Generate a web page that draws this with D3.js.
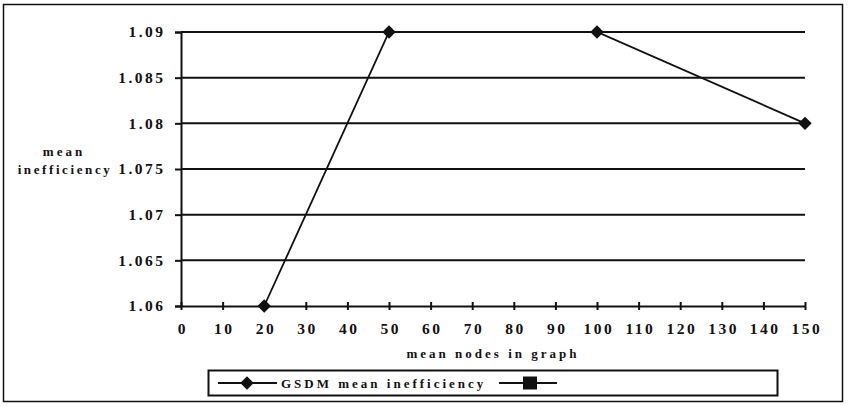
<!DOCTYPE html>
<html><head><meta charset="utf-8">
<script src="https://cdn.jsdelivr.net/npm/d3@7"></script>
<style>
body{margin:0;background:#fff;}
text{font-family:"Liberation Serif","Times New Roman",serif;font-weight:bold;fill:#111;}
</style></head>
<body><svg id="c" width="854" height="406"></svg>
<script>
const xTicks = [0,10,20,30,40,50,60,70,80,90,100,110,120,130,140,150];
const yTicks = [1.06,1.065,1.07,1.075,1.08,1.085,1.09];
const yTickLabels = ["1.06","1.065","1.07","1.075","1.08","1.085","1.09"];
const seriesNames = ["GSDM mean inefficiency",""];
const gsdmX = [20,50,100,150];
const gsdmY = [1.06,1.09,1.09,1.08];
const series2X = [];
const series2Y = [];

const svg = d3.select("#c");
const ink = "#111";
const L=181,R=805,T=32,B=306;
const x = d3.scaleLinear().domain([0,150]).range([L,R]);
const y = d3.scaleLinear().domain([1.06,1.09]).range([B,T]);
const FS = 13, LS = 3;      // word labels
const NFS = 15.5, NLS = 2.5;  // numeric tick labels

// outer frame
svg.append("rect").attr("x",3.5).attr("y",4.5).attr("width",839).attr("height",397)
  .attr("fill","none").attr("stroke",ink).attr("stroke-width",1.5);

// gridlines
svg.append("g").selectAll("line").data(yTicks.slice(1)).join("line")
  .attr("x1",L).attr("x2",R).attr("y1",d=>y(d)).attr("y2",d=>y(d))
  .attr("stroke",ink).attr("stroke-width",2);

// y axis
const yAxis = d3.axisLeft(y).tickValues(yTicks).tickFormat((d,i)=>yTickLabels[i]).tickSize(6).tickPadding(12);
const gy = svg.append("g").attr("transform",`translate(${L},0)`).call(yAxis);
gy.attr("font-family",null).attr("font-size",null);
gy.select(".domain").attr("stroke",ink).attr("stroke-width",2);
gy.selectAll(".tick line").attr("stroke",ink).attr("stroke-width",2);
gy.selectAll(".tick text").style("font-size",NFS+"px").style("letter-spacing",NLS+"px")
  .attr("fill",ink).attr("dx",NLS+"px");

// x axis
const xAxis = d3.axisBottom(x).tickValues(xTicks).tickSize(0).tickPadding(17);
const gx = svg.append("g").attr("transform",`translate(0,${B})`).call(xAxis);
gx.attr("font-family",null).attr("font-size",null);
gx.select(".domain").attr("stroke",ink).attr("stroke-width",2);
gx.selectAll(".tick line").attr("y1",-4).attr("y2",4).attr("stroke",ink).attr("stroke-width",2);
gx.selectAll(".tick text").style("font-size",NFS+"px").style("letter-spacing",NLS+"px")
  .attr("fill",ink).attr("dx",(NLS/2)+"px");

// axis titles
svg.append("text").attr("x",(L+R)/2).attr("y",358).attr("text-anchor","middle")
  .style("font-size",FS+"px").style("letter-spacing",LS+"px").text("mean nodes in graph");
svg.append("text").attr("x",64).attr("y",156).attr("text-anchor","middle")
  .style("font-size",FS+"px").style("letter-spacing",LS+"px").text("mean");
svg.append("text").attr("x",65).attr("y",174).attr("text-anchor","middle")
  .style("font-size",FS+"px").style("letter-spacing","2.6px").text("inefficiency");

// series line
const pts = gsdmX.map((d,i)=>[d,gsdmY[i]]);
const line = d3.line().x(d=>x(d[0])).y(d=>y(d[1]));
svg.append("path").datum(pts).attr("d",line).attr("fill","none").attr("stroke",ink).attr("stroke-width",1.8);
const sq = d3.symbol().type(d3.symbolSquare).size(90);
svg.append("g").selectAll("path").data(pts).join("path")
  .attr("d",sq).attr("transform",d=>`translate(${x(d[0])},${y(d[1])}) rotate(45)`)
  .attr("fill",ink);
const pts2 = series2X.map((d,i)=>[d,series2Y[i]]);
svg.append("g").selectAll("rect").data(pts2).join("rect")
  .attr("x",d=>x(d[0])-6).attr("y",d=>y(d[1])-6).attr("width",12).attr("height",12).attr("fill",ink);

// legend
svg.append("rect").attr("x",208.5).attr("y",370.5).attr("width",569).attr("height",25)
  .attr("fill","none").attr("stroke",ink).attr("stroke-width",2);
svg.append("line").attr("x1",218).attr("x2",277).attr("y1",383).attr("y2",383).attr("stroke",ink).attr("stroke-width",1.8);
svg.append("path").attr("d",sq()).attr("transform","translate(247,383) rotate(45)").attr("fill",ink);
svg.append("text").attr("x",281).attr("y",388).style("font-size",FS+"px").style("letter-spacing",LS+"px").text(seriesNames[0]);
svg.append("line").attr("x1",499).attr("x2",557).attr("y1",383).attr("y2",383).attr("stroke",ink).attr("stroke-width",1.8);
svg.append("rect").attr("x",523).attr("y",376.5).attr("width",14).attr("height",13).attr("fill",ink);
svg.append("text").attr("x",560).attr("y",388).style("font-size",FS+"px").text(seriesNames[1]);
</script></body></html>
